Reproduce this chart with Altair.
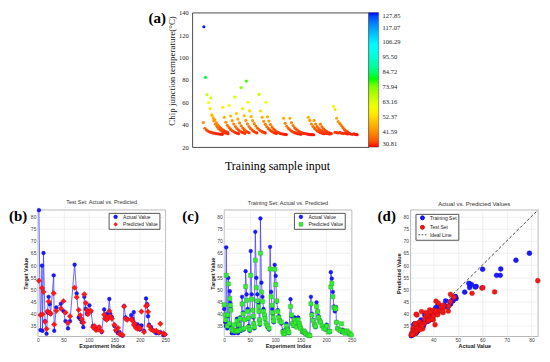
import altair as alt
import pandas as pd

SERIF = "Liberation Serif"
SANS = "Liberation Sans"

# ---------------- Panel (a): training sample temperatures ----------------
# each run: first sample position, then temperatures (one every 3 positions)
A_RUN_START = [0, 1, 4, 14, 37, 49, 60, 72, 82, 106, 119, 153, 165, 200, 211, 223, 248, 251]
A_RUN_VALUES = [
    [41.9, 36.8, 35.2, 34.3, 33.6, 33.1, 32.7, 32.4, 32.1, 31.9, 31.7, 31.5, 31.4],
    [127.4],
    [82.2, 66.7, 59.8, 54.4, 48.8, 45.8, 44.3, 41.6, 39.6, 37.9, 36.5, 35.4, 34.5, 33.8, 33.2],
    [63.9, 48.0, 43.5, 40.5, 38.3, 36.6, 35.3, 34.3, 33.5, 32.9, 32.4, 32.0],
    [55.5, 46.6, 42.2, 39.4, 37.4, 35.8, 34.6, 33.7, 33.0, 32.4, 32.0],
    [57.2, 47.8, 43.6, 40.6, 38.4, 36.6, 35.2, 34.2, 33.4, 32.8, 32.3],
    [64.7, 50.0, 45.0, 41.6, 39.1, 37.1, 35.6, 34.4, 33.5, 32.8],
    [73.1, 54.4, 48.0, 43.8, 40.7, 38.4, 36.6, 35.2, 34.1, 33.3, 32.7],
    [78.9, 60.0, 52.4, 47.2, 43.6, 40.9, 38.8, 37.1, 35.7, 34.6, 33.8, 33.2, 32.7],
    [67.0, 52.2, 46.6, 43.0, 40.3, 38.2, 36.5, 35.2, 34.1, 33.3, 32.7, 32.2],
    [60.0, 47.0, 43.2, 40.2, 37.9, 36.1, 34.7, 33.7, 32.9, 32.3, 31.9, 31.6, 31.4, 31.2],
    [45.8, 41.2, 38.6, 36.8, 35.4, 34.3, 33.5, 32.9, 32.4, 32.0, 31.7, 31.5],
    [45.8, 41.8, 39.2, 37.3, 35.9, 34.7, 33.8, 33.1, 32.6, 32.2, 31.9, 31.6, 31.4, 31.2, 31.1, 31.0],
    [46.6, 43.8, 40.6, 38.4, 36.7, 35.3, 34.2, 33.4, 32.8, 32.3, 31.9],
    [43.8, 40.6, 38.3, 36.6, 35.2, 34.1, 33.3, 32.7, 32.2, 31.9, 31.7],
    [40.5, 38.1, 36.3, 34.9, 33.8, 33.0, 32.5, 32.1],
    [56.3, 53.6, 45.8, 42.8, 41.0, 39.2, 37.4, 35.7, 34.4, 33.5],
    [33.3, 32.9, 32.6, 33.1, 32.5, 32.2, 32.6, 32.1, 31.8, 32.2, 31.7, 31.5, 31.8, 31.3, 31.1],
]
A_COLORBAR_TICKS = [30.81, 41.59, 52.37, 63.16, 73.94, 84.72, 95.50, 106.29, 117.07, 127.85]
A_Y_TICKS = [20, 40, 60, 80, 100, 120, 140]

# ---------------- Test set (panel b) ----------------
TEST_IDX = [2, 5, 8, 9, 11, 14, 17, 19, 21, 23, 25, 31, 32, 36, 45, 50, 54, 59, 63, 72,
            76, 80, 83, 86, 89, 91, 94, 96, 98, 101, 104, 108, 111, 114, 118, 120, 125, 130, 132, 135,
            137, 140, 142, 145, 150, 153, 157, 160, 163, 166, 169, 172, 175, 183, 185, 188, 190, 192, 195, 198,
            200, 203, 208, 212, 214, 216, 218, 222, 227, 232, 237, 240, 246, 249]
TEST_ACTUAL = [82.6, 33.3, 59.8, 33.0, 65.0, 37.0, 31.8, 40.5, 47.0, 44.0, 40.0, 55.8, 33.0, 42.6, 44.1, 41.1, 37.0, 34.0, 37.0, 60.2,
               48.4, 38.5, 37.8, 36.5, 34.5, 47.0, 42.0, 40.0, 40.5, 43.5, 41.0, 35.0, 34.0, 33.5, 34.0, 34.5, 32.5, 41.8, 38.0, 40.0,
               38.0, 46.1, 40.0, 38.7, 35.0, 33.0, 32.0, 32.5, 31.3, 31.0, 43.2, 38.5, 37.8, 39.5, 38.0, 40.7, 36.0, 35.0, 35.7, 35.0,
               33.5, 35.2, 33.0, 46.3, 44.0, 39.0, 35.5, 34.5, 33.0, 32.0, 32.0, 32.5, 31.2, 31.5]
TEST_PRED = [53.6, 39.5, 50.6, 39.8, 49.0, 36.7, 33.8, 41.0, 45.0, 40.5, 40.0, 48.4, 35.6, 41.2, 42.2, 45.2, 40.5, 36.3, 39.0, 50.7,
             46.8, 41.6, 39.4, 37.8, 36.4, 48.0, 44.4, 41.5, 39.8, 41.0, 41.2, 34.5, 35.0, 33.3, 33.5, 34.5, 32.8, 39.6, 38.0, 37.5,
             38.5, 41.1, 39.0, 38.0, 35.5, 33.3, 34.2, 31.8, 31.5, 31.3, 43.0, 38.0, 37.5, 37.8, 37.2, 35.5, 35.8, 34.3, 33.8, 34.5,
             34.0, 40.9, 32.5, 43.2, 43.5, 40.8, 35.0, 33.5, 33.0, 33.0, 32.3, 35.9, 32.0, 31.5]

# ---------------- Training set (panel c) ----------------
TRAIN_IDX = [0, 2, 3, 4, 6, 7, 8, 10, 11, 12, 13, 15, 16, 18, 20, 22, 24, 25, 27, 29,
             31, 33, 35, 37, 38, 40, 42, 44, 46, 47, 48, 50, 52, 54, 56, 57, 58, 59, 61, 63,
             65, 67, 68, 69, 70, 71, 73, 75, 77, 79, 80, 82, 85, 88, 90, 92, 94, 95, 96, 97,
             99, 101, 103, 105, 107, 109, 112, 115, 117, 118, 120, 122, 124, 125, 127, 130, 132, 134, 136, 138,
             140, 142, 145, 147, 148, 150, 153, 155, 157, 158, 160, 163, 166, 168, 170, 172, 174, 177, 179, 181,
             183, 185, 187, 189, 192, 195, 198, 201, 204, 207, 209, 211, 213, 215, 217, 219, 220, 222, 225, 228,
             230, 232, 234, 237, 240, 243, 246, 249]
TRAIN_ACTUAL = [42.0, 36.5, 35.0, 67.3, 34.0, 39.0, 54.8, 35.0, 49.3, 44.5, 42.0, 32.0, 33.0, 32.5, 32.0, 32.5, 33.5, 38.0, 32.0, 35.0,
                38.5, 33.0, 47.0, 40.5, 33.5, 37.5, 57.5, 48.0, 42.0, 38.0, 35.0, 33.0, 65.8, 48.0, 41.5, 38.5, 36.0, 34.0, 73.7, 54.8,
                48.0, 44.5, 41.0, 37.5, 35.5, 79.2, 52.8, 47.0, 42.0, 39.5, 38.0, 36.0, 34.5, 33.5, 67.5, 49.0, 42.0, 40.0, 38.0, 36.5,
                60.1, 55.6, 45.0, 41.5, 39.0, 37.5, 36.0, 33.0, 32.0, 32.5, 33.5, 36.0, 34.0, 33.5, 32.0, 46.0, 39.0, 36.0, 35.0, 38.5,
                36.5, 34.5, 38.5, 36.0, 35.0, 34.5, 32.5, 32.5, 32.2, 32.0, 31.8, 31.3, 31.0, 31.2, 47.0, 40.0, 37.5, 35.5, 34.5, 44.7,
                41.0, 39.0, 37.5, 36.5, 35.0, 34.5, 33.5, 35.5, 33.0, 32.5, 57.1, 54.5, 49.0, 43.0, 41.0, 42.8, 36.5, 34.0, 33.5, 33.0,
                32.5, 33.5, 32.5, 33.0, 32.5, 32.0, 31.5, 31.3]
TRAIN_PRED = [43.7, 39.5, 37.5, 55.8, 35.0, 39.5, 52.3, 36.0, 46.3, 43.5, 41.5, 33.8, 33.5, 33.0, 35.5, 32.8, 33.0, 37.0, 33.0, 35.5,
              38.0, 33.5, 44.0, 40.0, 34.0, 37.5, 51.2, 45.5, 41.0, 38.2, 34.5, 33.5, 55.8, 46.0, 41.5, 39.0, 36.0, 34.5, 62.0, 50.8,
              45.3, 43.0, 41.0, 37.5, 36.0, 64.9, 48.9, 45.0, 41.0, 39.5, 38.0, 36.0, 35.0, 34.0, 58.4, 47.0, 43.5, 40.5, 38.5, 37.0,
              58.3, 52.0, 45.3, 41.0, 38.5, 37.0, 36.5, 32.5, 31.7, 32.0, 33.0, 35.0, 33.5, 33.0, 32.3, 43.0, 39.5, 36.0, 35.2, 37.5,
              36.5, 34.5, 37.5, 36.0, 35.0, 34.0, 32.8, 33.0, 32.5, 32.5, 31.8, 31.5, 31.0, 31.1, 44.1, 39.5, 37.3, 35.5, 34.8, 43.0,
              41.0, 38.5, 37.0, 36.5, 35.0, 34.0, 33.8, 35.0, 32.5, 32.8, 51.0, 52.5, 47.0, 42.5, 42.5, 42.0, 36.5, 34.0, 33.5, 33.0,
              35.9, 33.0, 32.5, 32.0, 33.0, 32.5, 31.8, 31.3]

VAL_DOMAIN = [30.7, 82.7]
IDX_TICKS = [0, 50, 100, 150, 200, 250]
VAL_TICKS = [35, 40, 45, 50, 55, 60, 65, 70, 75, 80]
ACT_TICKS = [40, 50, 60, 70, 80]

# layout (pixels)
A_W, A_H = 177, 135
P_W, P_H = 128, 127
COL_GAP = 59
ROW_GAP = 63

# ---------------- panel (a) ----------------
rows = []
for start, vals in zip(A_RUN_START, A_RUN_VALUES):
    for k, v in enumerate(vals):
        rows.append({"sample": start + 3 * k, "temp": v})
a_df = pd.DataFrame(rows)

a_color = alt.Scale(domain=[30.81, 58.0, 80.0, 104.0, 127.85],
                    range=["#ff0000", "#ffff00", "#00ff00", "#00ffff", "#0000ff"])

a_pts = alt.Chart(a_df).mark_circle(size=10, opacity=1).encode(
    x=alt.X("sample:Q", scale=alt.Scale(domain=[-21, 315], nice=False, zero=False),
            axis=alt.Axis(labels=False, ticks=False, domain=False, grid=False,
                          title="Training sample input", titleFont=SERIF, titleFontSize=12,
                          titleFontWeight="normal", titleColor="black", titleX=85, titleY=18,
                          titleAlign="center", titleBaseline="middle")),
    y=alt.Y("temp:Q", scale=alt.Scale(domain=[20, 140], nice=False, zero=False),
            axis=alt.Axis(values=A_Y_TICKS, labelFont=SERIF, labelFontSize=6.5, labelColor="#222",
                          ticks=False, domain=False, grid=False, labelPadding=4, labelFlush=False,
                          title="Chip junction temperature(°C)", titleFont=SERIF, titleFontSize=9,
                          titleFontWeight="normal", titleColor="#111", titleAngle=270,
                          titleX=-21, titleY=58, titleAlign="center", titleBaseline="middle")),
    color=alt.Color("temp:Q", scale=a_color,
                    legend=alt.Legend(title=None, orient="right", offset=0, padding=0,
                                      direction="vertical", gradientLength=A_H, gradientThickness=10,
                                      values=A_COLORBAR_TICKS, format=".2f", labelFont=SERIF,
                                      labelFontSize=6.5, labelColor="#222", labelOffset=4,
                                      labelOverlap=False, gradientStrokeColor="#444",
                                      gradientStrokeWidth=0.5)),
)
a_lab = alt.Chart(pd.DataFrame({"t": ["(a)"]})).mark_text(
    font=SERIF, fontSize=15, fontWeight="bold", align="left", baseline="middle", color="black"
).encode(text="t:N", x=alt.value(-44), y=alt.value(5.5))

panel_a = alt.layer(a_pts, a_lab).properties(
    width=A_W, height=A_H, view=alt.ViewBackground(stroke="#222", strokeWidth=0.8))


def blank(w, h):
    return alt.Chart(pd.DataFrame({"t": [""]})).mark_text().encode(text="t:N").properties(width=w, height=h)


# ---------------- helpers for lower panels ----------------
def x_axis(values, title):
    return alt.Axis(values=values, title=title, titleFont=SANS, titleFontSize=5.5, titleFontWeight="bold",
                    titleColor="#222", titlePadding=0.5, labelFont=SANS, labelFontSize=5, labelColor="#444",
                    labelPadding=1.5, labelFlush=False, ticks=False, domain=False, grid=True,
                    gridColor="#e3e3e3", gridWidth=0.5)


def y_axis(values, title):
    return alt.Axis(values=values, title=title, titleFont=SANS, titleFontSize=5.5, titleFontWeight="bold",
                    titleColor="#222", titlePadding=1.5, labelFont=SANS, labelFontSize=5, labelColor="#444",
                    labelPadding=2, labelFlush=False, ticks=False, domain=False, grid=True,
                    gridColor="#e3e3e3", gridWidth=0.5)


def legend(lx, ly, ssize=14, sw=0.5):
    return alt.Legend(title=None, orient="none", legendX=lx, legendY=ly, fillColor="white",
                      strokeColor="#555", padding=1.5, rowPadding=0.5, labelFont=SANS, labelFontSize=5,
                      labelColor="#222", symbolSize=ssize, symbolStrokeWidth=sw, symbolOffset=3,
                      labelOffset=5, labelLimit=300)


def label_layer(text, dx):
    return alt.Chart(pd.DataFrame({"t": [text]})).mark_text(
        font=SERIF, fontSize=15, fontWeight="bold", align="left", baseline="middle", color="black"
    ).encode(text="t:N", x=alt.value(dx), y=alt.value(6))


def series_panel(idx, actual, pred, title, pfill, pstroke, pshape, psize, label, dx, lx):
    long = pd.concat([
        pd.DataFrame({"idx": idx, "val": actual, "series": "Actual Value"}),
        pd.DataFrame({"idx": idx, "val": pred, "series": "Predicted Value"}),
    ])
    dom = ["Actual Value", "Predicted Value"]
    xs = alt.Scale(domain=[0, 250], nice=False, zero=False)
    ys = alt.Scale(domain=VAL_DOMAIN, nice=False, zero=False)
    xe = alt.X("idx:Q", scale=xs, axis=x_axis(IDX_TICKS, "Experiment Index"))
    ye = alt.Y("val:Q", scale=ys, axis=y_axis(VAL_TICKS, "Target Value"))
    leg = legend(lx, 3)
    fill = alt.Fill("series:N", scale=alt.Scale(domain=dom, range=["#1a1aff", pfill]), legend=leg)
    stroke = alt.Stroke("series:N", scale=alt.Scale(domain=dom, range=["#0000dd", pstroke]), legend=leg)
    shape = alt.Shape("series:N", scale=alt.Scale(domain=dom, range=["circle", pshape]), legend=leg)

    line = alt.Chart(long).transform_filter(alt.datum.series == "Actual Value").mark_line(
        color="#4646ff", strokeWidth=0.9, opacity=0.9).encode(x=xe, y=ye)
    pa = alt.Chart(long).transform_filter(alt.datum.series == "Actual Value").mark_point(
        filled=True, opacity=1, size=14, strokeWidth=0.4).encode(x=xe, y=ye, fill=fill, stroke=stroke, shape=shape)
    pp = alt.Chart(long).transform_filter(alt.datum.series == "Predicted Value").mark_point(
        filled=True, opacity=1, size=psize, strokeWidth=0.4).encode(x=xe, y=ye, fill=fill, stroke=stroke, shape=shape)
    return alt.layer(line, pa, pp, label_layer(label, dx)).properties(
        width=P_W, height=P_H,
        title=alt.TitleParams(title, font=SANS, fontSize=5.5, fontWeight="normal", color="#333", offset=2),
        view=alt.ViewBackground(stroke="#8c8c8c", strokeWidth=0.6))


panel_b = series_panel(TEST_IDX, TEST_ACTUAL, TEST_PRED, "Test Set: Actual vs. Predicted",
                       "#ff1a1a", "#dd0000", "diamond", 30, "(b)", -29, 71)
panel_c = series_panel(TRAIN_IDX, TRAIN_ACTUAL, TRAIN_PRED, "Training Set: Actual vs. Predicted",
                       "#33ee33", "#22aa22", "square", 18, "(c)", -42, 70)

# ---------------- panel (d) ----------------
d_pts = pd.concat([
    pd.DataFrame({"act": TRAIN_ACTUAL, "pre": TRAIN_PRED, "set": "Training Set"}),
    pd.DataFrame({"act": TEST_ACTUAL, "pre": TEST_PRED, "set": "Test Set"}),
])
d_ideal = pd.DataFrame({"act": VAL_DOMAIN, "pre": VAL_DOMAIN})
d_dom = ["Training Set", "Test Set", "Ideal Line"]
dxs = alt.Scale(domain=VAL_DOMAIN, nice=False, zero=False)
dys = alt.Scale(domain=VAL_DOMAIN, nice=False, zero=False)
dxe = alt.X("act:Q", scale=dxs, axis=x_axis(ACT_TICKS, "Actual Value"))
dye = alt.Y("pre:Q", scale=dys, axis=y_axis(VAL_TICKS, "Predicted Value"))
dleg = legend(5, 4, ssize=16, sw=0.9)
d_line = alt.Chart(d_ideal).mark_line(color="#333", strokeDash=[3, 2], strokeWidth=0.9).encode(x=dxe, y=dye)
d_sc = alt.Chart(d_pts).mark_point(filled=True, opacity=1, size=24, strokeWidth=0.4).encode(
    x=dxe, y=dye,
    fill=alt.Fill("set:N", scale=alt.Scale(domain=d_dom, range=["#1a1aff", "#ee1a1a", "#333333"]), legend=dleg),
    stroke=alt.Stroke("set:N", scale=alt.Scale(domain=d_dom, range=["#0000dd", "#cc0000", "#333333"]), legend=dleg),
    shape=alt.Shape("set:N", scale=alt.Scale(domain=d_dom, range=["circle", "circle",
                                                                  "M-2,0H-1.2M-0.4,0H0.4M1.2,0H2"]), legend=dleg),
)
panel_d = alt.layer(d_line, d_sc, label_layer("(d)", -33)).properties(
    width=P_W, height=P_H,
    title=alt.TitleParams("Actual vs. Predicted Values", font=SANS, fontSize=6, fontWeight="normal",
                          color="#333", offset=1),
    view=alt.ViewBackground(stroke="#8c8c8c", strokeWidth=0.6))

INDEP = dict(color="independent", fill="independent", stroke="independent", shape="independent")

# nested rows: with flush bounds a nested row counts as zero height, so the row gap includes panel (a)'s height
top_row = alt.hconcat(blank(150, 20), panel_a, spacing=5, bounds="flush").resolve_scale(**INDEP)
bottom_row = alt.hconcat(panel_b, panel_c, panel_d, spacing=COL_GAP, bounds="flush").resolve_scale(**INDEP)

chart = alt.vconcat(top_row, bottom_row, spacing=A_H + ROW_GAP, bounds="flush").resolve_scale(**INDEP).properties(
    padding=0, background="white"
).configure(font=SANS).configure_view(stroke=None)

chart.save("out.html", embed_options={"renderer": "svg", "actions": False})
